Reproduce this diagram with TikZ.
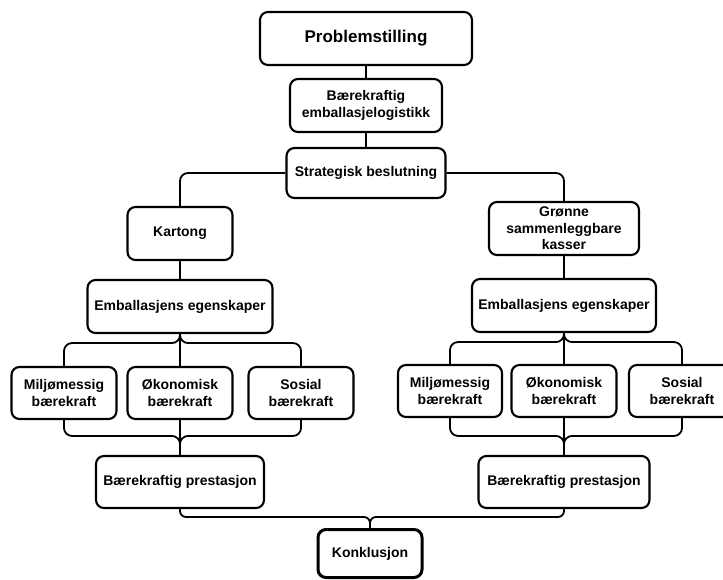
\documentclass[tikz,border=0pt]{standalone}
\usepackage{fontspec}
\setmainfont{Liberation Sans}
\usetikzlibrary{calc}

\begin{document}
\begin{tikzpicture}[x=1pt, y=-1pt, line width=1.8pt,
  box/.style={draw, rounded corners=8pt, line width=2.1pt, align=center, inner sep=2pt,
    font=\fontsize{14}{16.5}\selectfont\bfseries},
  link/.style={rounded corners=8pt}]
  \useasboundingbox (0,0) rectangle (723,579);

  \node[box, minimum width=212pt, minimum height=53pt, font=\fontsize{17}{20}\selectfont\bfseries] (prob) at (366,38.5) {Problemstilling};
  \node[box, minimum width=152pt, minimum height=53pt] (logist) at (366,105.5) {Bærekraftig\\emballasjelogistikk};
  \node[box, minimum width=159pt, minimum height=50pt] (strat) at (366,173) {Strategisk beslutning};

  \node[box, minimum width=105pt, minimum height=53pt] (kart) at (180,233.5) {Kartong};
  \node[box, minimum width=150pt, minimum height=53pt] (gronn) at (564,228.5) {Grønne\\sammenleggbare\\kasser};

  \node[box, minimum width=185pt, minimum height=53pt] (embL) at (180,306.5) {Emballasjens egenskaper};
  \node[box, minimum width=184pt, minimum height=53pt] (embR) at (564,305.5) {Emballasjens egenskaper};

  \node[box, minimum width=105pt, minimum height=52pt] (mL1) at (64,393) {Miljømessig\\bærekraft};
  \node[box, minimum width=105pt, minimum height=52pt] (mL2) at (180,393) {Økonomisk\\bærekraft};
  \node[box, minimum width=105pt, minimum height=52pt] (mL3) at (301,393) {Sosial\\bærekraft};
  \node[box, minimum width=104pt, minimum height=52pt] (mR1) at (450,391) {Miljømessig\\bærekraft};
  \node[box, minimum width=105pt, minimum height=52pt] (mR2) at (564,391) {Økonomisk\\bærekraft};
  \node[box, minimum width=106pt, minimum height=52pt] (mR3) at (682,391) {Sosial\\bærekraft};

  \node[box, minimum width=168pt, minimum height=52pt] (prestL) at (180,482) {Bærekraftig prestasjon};
  \node[box, minimum width=171pt, minimum height=52pt] (prestR) at (564,482) {Bærekraftig prestasjon};

  \node[box, line width=3pt, minimum width=104pt, minimum height=48pt] (konkl) at (370,553.5) {Konklusjon};

  \draw (prob.south) -- (logist.north);
  \draw (logist.south) -- (strat.north);
  \draw[link] (strat.west) -| (kart.north);
  \draw[link] (strat.east) -| (gronn.north);
  \draw (kart.south) -- (embL.north);
  \draw (gronn.south) -- (embR.north);

  \coordinate (topL) at ($(embL.south)+(0,9)$);
  \coordinate (topR) at ($(embR.south)+(0,9)$);
  \draw[link] (mL1.north) |- (topL) -- (embL.south);
  \draw[link] (mL3.north) |- (topL) -- (embL.south);
  \draw (mL2.north) -- (embL.south);
  \draw[link] (mR1.north) |- (topR) -- (embR.south);
  \draw[link] (mR3.north) |- (topR) -- (embR.south);
  \draw (mR2.north) -- (embR.south);

  \coordinate (botL) at ($(prestL.north)+(0,-19)$);
  \coordinate (botR) at ($(prestR.north)+(0,-19)$);
  \draw[link] (mL1.south) |- (botL) -- (prestL.north);
  \draw[link] (mL3.south) |- (botL) -- (prestL.north);
  \draw (mL2.south) -- (prestL.north);
  \draw[link] (mR1.south) |- (botR) -- (prestR.north);
  \draw[link] (mR3.south) |- (botR) -- (prestR.north);
  \draw (mR2.south) -- (prestR.north);

  \coordinate (botK) at ($(konkl.north)+(0,-11)$);
  \draw[link, rounded corners=6pt] (prestL.south) |- (botK) -- (konkl.north);
  \draw[link, rounded corners=6pt] (prestR.south) |- (botK) -- (konkl.north);
\end{tikzpicture}
\end{document}
